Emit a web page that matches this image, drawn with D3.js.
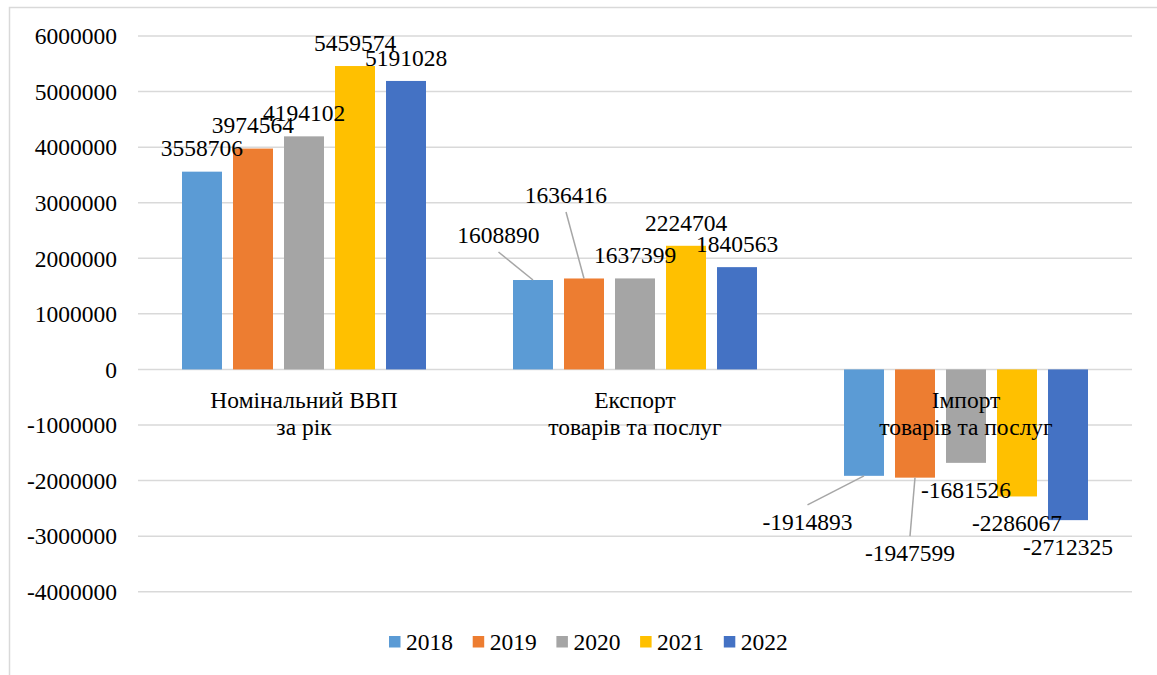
<!DOCTYPE html>
<html><head><meta charset="utf-8">
<script src="https://cdn.jsdelivr.net/npm/d3@7"></script>
<style>body{margin:0;background:#fff}svg{display:block}text{font-family:"Liberation Serif","Times New Roman",serif;fill:#000}</style>
</head><body>
<svg id="c" width="1157" height="675"></svg>
<script>
const categories = [["Номінальний ВВП","за рік"],["Експорт","товарів та послуг"],["Імпорт","товарів та послуг"]];
const categoryKeys = ["gdp","export","import"];
const years = ["2018","2019","2020","2021","2022"];
const gdp = [3558706, 3974564, 4194102, 5459574, 5191028];
const exportVals = [1608890, 1636416, 1637399, 2224704, 1840563];
const importVals = [-1914893, -1947599, -1681526, -2286067, -2712325];
const yTicks = [6000000,5000000,4000000,3000000,2000000,1000000,0,-1000000,-2000000,-3000000,-4000000];
const colors = ["#5B9BD5","#ED7D31","#A5A5A5","#FFC000","#4472C4"];

// label placement tweaks (layout only): pixel offsets from default label spot, with leader lines
const labelTweaks = {
  "export|2018": {dx:-34.5, dy:-22},
  "export|2019": {dx:-18, dy:-60.5},
  "import|2018": {dx:-56.5, dy:19},
  "import|2019": {dx:-5, dy:48.5}
};

const seriesByCat = [gdp, exportVals, importVals];
const rows = [];
categoryKeys.forEach((k,ci)=>years.forEach((y,yi)=>rows.push({cat:k,ci,year:y,yi,v:seriesByCat[ci][yi]})));

const svg = d3.select("#c");
const FS = 23.5;
svg.append("rect").attr("x",9.5).attr("y",7.5).attr("width",1300).attr("height",800)
  .attr("fill","none").attr("stroke","#d9d9d9").attr("stroke-width",1.5);

const y = d3.scaleLinear().domain([-4000000,6000000]).range([591.7,36]);
const x0 = d3.scaleBand().domain(categoryKeys).range([138.5,1131.5]);
const x1 = d3.scaleBand().domain(years).range([0,x0.bandwidth()]).paddingInner(0.216).paddingOuter(0.853);

// gridlines
svg.append("g").selectAll("line").data(yTicks).join("line")
  .attr("x1",138).attr("x2",1132).attr("y1",d=>y(d)).attr("y2",d=>y(d))
  .attr("stroke","#d9d9d9").attr("stroke-width",1.5);

// y axis labels
const yAxis = d3.axisLeft(y).tickValues(yTicks).tickSize(0).tickPadding(0).tickFormat(d=>String(d));
const ga = svg.append("g").attr("transform","translate(117,0)").call(yAxis);
ga.select(".domain").remove();
ga.selectAll("text").attr("font-size",FS).attr("font-family","Liberation Serif").attr("fill","#000").attr("dy","0.33em");

// bars
svg.append("g").selectAll("rect").data(rows).join("rect")
  .attr("x",d=>x0(d.cat)+x1(d.year)).attr("width",x1.bandwidth())
  .attr("y",d=>y(Math.max(0,d.v))).attr("height",d=>Math.abs(y(d.v)-y(0)))
  .attr("fill",d=>colors[d.yi]);

// category labels
const cl = svg.append("g");
categories.forEach((lines,ci)=>{
  const cx = x0(categoryKeys[ci]) + x0.bandwidth()/2;
  lines.forEach((t,li)=>{
    cl.append("text").attr("x",cx).attr("y",400+li*27).attr("dy","0.33em")
      .attr("text-anchor","middle").attr("font-size",FS).text(t);
  });
});

// data labels
const lg = svg.append("g");
rows.forEach(d=>{
  const bx = x0(d.cat)+x1(d.year)+x1.bandwidth()/2;
  const end = y(d.v);
  let tx = bx, ty = d.v>=0 ? end-23 : end+27;
  const tw = labelTweaks[d.cat+"|"+d.year];
  if(tw){
    tx += tw.dx; ty += tw.dy;
    const sy = d.v>=0 ? ty+17 : ty-17;
    lg.append("line").attr("x1",tx).attr("y1",sy).attr("x2",bx).attr("y2",end)
      .attr("stroke","#a6a6a6").attr("stroke-width",1.5);
  }
  lg.append("text").attr("x",tx).attr("y",ty).attr("dy","0.33em")
    .attr("text-anchor","middle").attr("font-size",FS).text(String(d.v));
});

// legend
const leg = svg.append("g");
years.forEach((yr,i)=>{
  const lx = 389 + i*83.7;
  leg.append("rect").attr("x",lx).attr("y",636).attr("width",11.5).attr("height",11.5).attr("fill",colors[i]);
  leg.append("text").attr("x",lx+17).attr("y",642).attr("dy","0.33em").attr("font-size",FS).text(yr);
});
</script>
</body></html>
